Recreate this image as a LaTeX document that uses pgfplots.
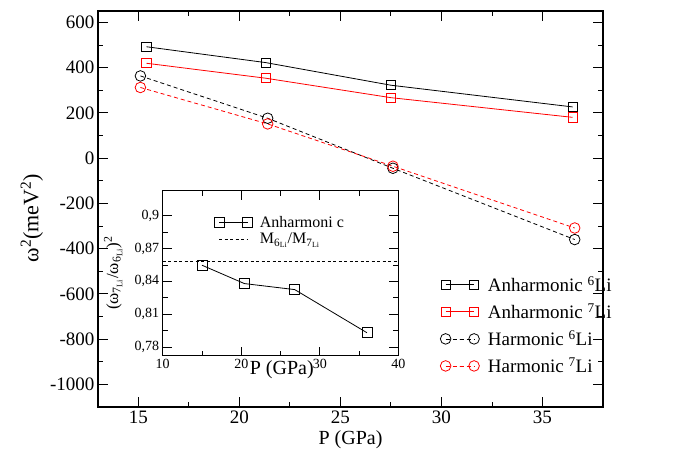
\documentclass[border=0pt]{standalone}
\usepackage{fontspec}
\setmainfont{Liberation Serif}
\usepackage{pgfplots}
\pgfplotsset{compat=1.18}
\begin{document}
\begin{tikzpicture}
\useasboundingbox (0,0) rectangle (689pt,455pt);
\begin{axis}[
  at={(98pt,48pt)}, anchor=south west,
  scale only axis, width=505pt, height=396pt,
  xmin=13, xmax=38, ymin=-1100, ymax=650,
  xtick={15,20,25,30,35}, ytick={-1000,-800,-600,-400,-200,0,200,400,600},
  minor x tick num=1, minor y tick num=1,
  tick align=inside, major tick length=10pt, minor tick length=5pt,
  every tick/.style={line width=0.8pt, black},
  axis line style={line width=1.3pt},
  /pgf/number format/assume math mode=true,
  /pgf/number format/1000 sep={},
  tick label style={font=\fontsize{19}{19}\selectfont},
  xlabel={P (GPa)},
  xlabel style={font=\fontsize{20}{20}\selectfont, at={(axis description cs:0.5,0)}, anchor=center, yshift=-33pt},
  ylabel={ω\textsuperscript{2}(meV\textsuperscript{2})},
  ylabel style={font=\fontsize{22}{22}\selectfont, at={(axis description cs:-0.131,0.477)}, anchor=center},
  legend style={draw=none, fill=none, at={(axis description cs:0.67,0.34)}, anchor=north west,
    font=\fontsize{19}{19}\selectfont, row sep=6.5pt},
  legend cell align=left,
  legend image code/.code={\draw[mark repeat=2,mark phase=1] plot coordinates {(0cm,0cm) (0.5cm,0cm) (1.0cm,0cm)}; \path (-0.2cm,0) (1.4cm,0);},
]
\addplot[black, line width=0.8pt, mark=square, mark size=4.6pt, mark options={solid, line width=0.8pt}] coordinates {
  (15.4,492) (21.3,422) (27.5,322) (36.5,226)};
\addlegendentry{Anharmonic \textsuperscript{6}Li}
\addplot[red, line width=0.8pt, mark=square, mark size=4.6pt, mark options={solid, line width=0.8pt}] coordinates {
  (15.4,419) (21.3,353) (27.5,267) (36.5,180)};
\addlegendentry{Anharmonic \textsuperscript{7}Li}
\addplot[black, line width=0.8pt, dash pattern=on 4pt off 3pt, mark=o, mark size=5.3pt, mark options={solid, line width=0.8pt}] coordinates {
  (15.1,363) (21.4,176) (27.6,-45) (36.6,-360)};
\addlegendentry{Harmonic \textsuperscript{6}Li}
\addplot[red, line width=0.8pt, dash pattern=on 4pt off 3pt, mark=o, mark size=5.3pt, mark options={solid, line width=0.8pt}] coordinates {
  (15.1,312) (21.4,151) (27.6,-36) (36.6,-309)};
\addlegendentry{Harmonic \textsuperscript{7}Li}
\end{axis}
\begin{axis}[
  at={(162.7pt,99.3pt)}, anchor=south west,
  scale only axis, width=235.7pt, height=165pt,
  xmin=10, xmax=40, ymin=0.772, ymax=0.923,
  xtick={10,20,30,40}, ytick={0.78,0.81,0.84,0.87,0.9},
  minor x tick num=1, minor y tick num=1,
  tick align=inside, major tick length=9pt, minor tick length=5pt,
  every tick/.style={line width=0.8pt, black},
  axis line style={line width=1.1pt},
  axis background/.style={fill=white},
  /pgf/number format/assume math mode=true,
  /pgf/number format/use comma, /pgf/number format/fixed, /pgf/number format/precision=2,
  tick label style={font=\fontsize{14}{14}\selectfont},
  xlabel={P (GPa)},
  xlabel style={font=\fontsize{20}{20}\selectfont, at={(axis description cs:0.505,0)}, anchor=center, yshift=-14pt},
  ylabel={(ω\textsubscript{7\textsubscript{Li}}/ω\textsubscript{6\textsubscript{Li}})\textsuperscript{2}},
  ylabel style={font=\fontsize{17}{17}\selectfont, at={(axis description cs:-0.21,0.5)}, anchor=center},
  legend style={draw=none, fill=none, at={(axis description cs:0.2,0.87)}, anchor=north west,
    font=\fontsize{16}{16}\selectfont, row sep=0pt},
  legend cell align=left,
]
\addplot[black, line width=0.8pt, mark=square, mark size=5pt, mark options={solid, line width=0.8pt},
  legend image code/.code={\draw[mark repeat=2,mark phase=1] plot coordinates {(0cm,0cm) (0.5cm,0cm) (1.0cm,0cm)}; \path (-0.2cm,0) (1.35cm,0);}] coordinates {
  (15,0.8548) (20.4,0.838) (26.8,0.8325) (36,0.793)};
\addlegendentry{Anharmoni c}
\addplot[black, line width=0.8pt, dash pattern=on 3pt off 2.5pt,
  legend image code/.code={\draw (0cm,0cm) -- (1.0cm,0cm); \path (-0.2cm,0) (1.35cm,0);}] coordinates {(10,0.858) (40,0.858)};
\addlegendentry{M\textsubscript{6\textsubscript{Li}}/M\textsubscript{7\textsubscript{Li}}}
\end{axis}
\end{tikzpicture}
\end{document}
